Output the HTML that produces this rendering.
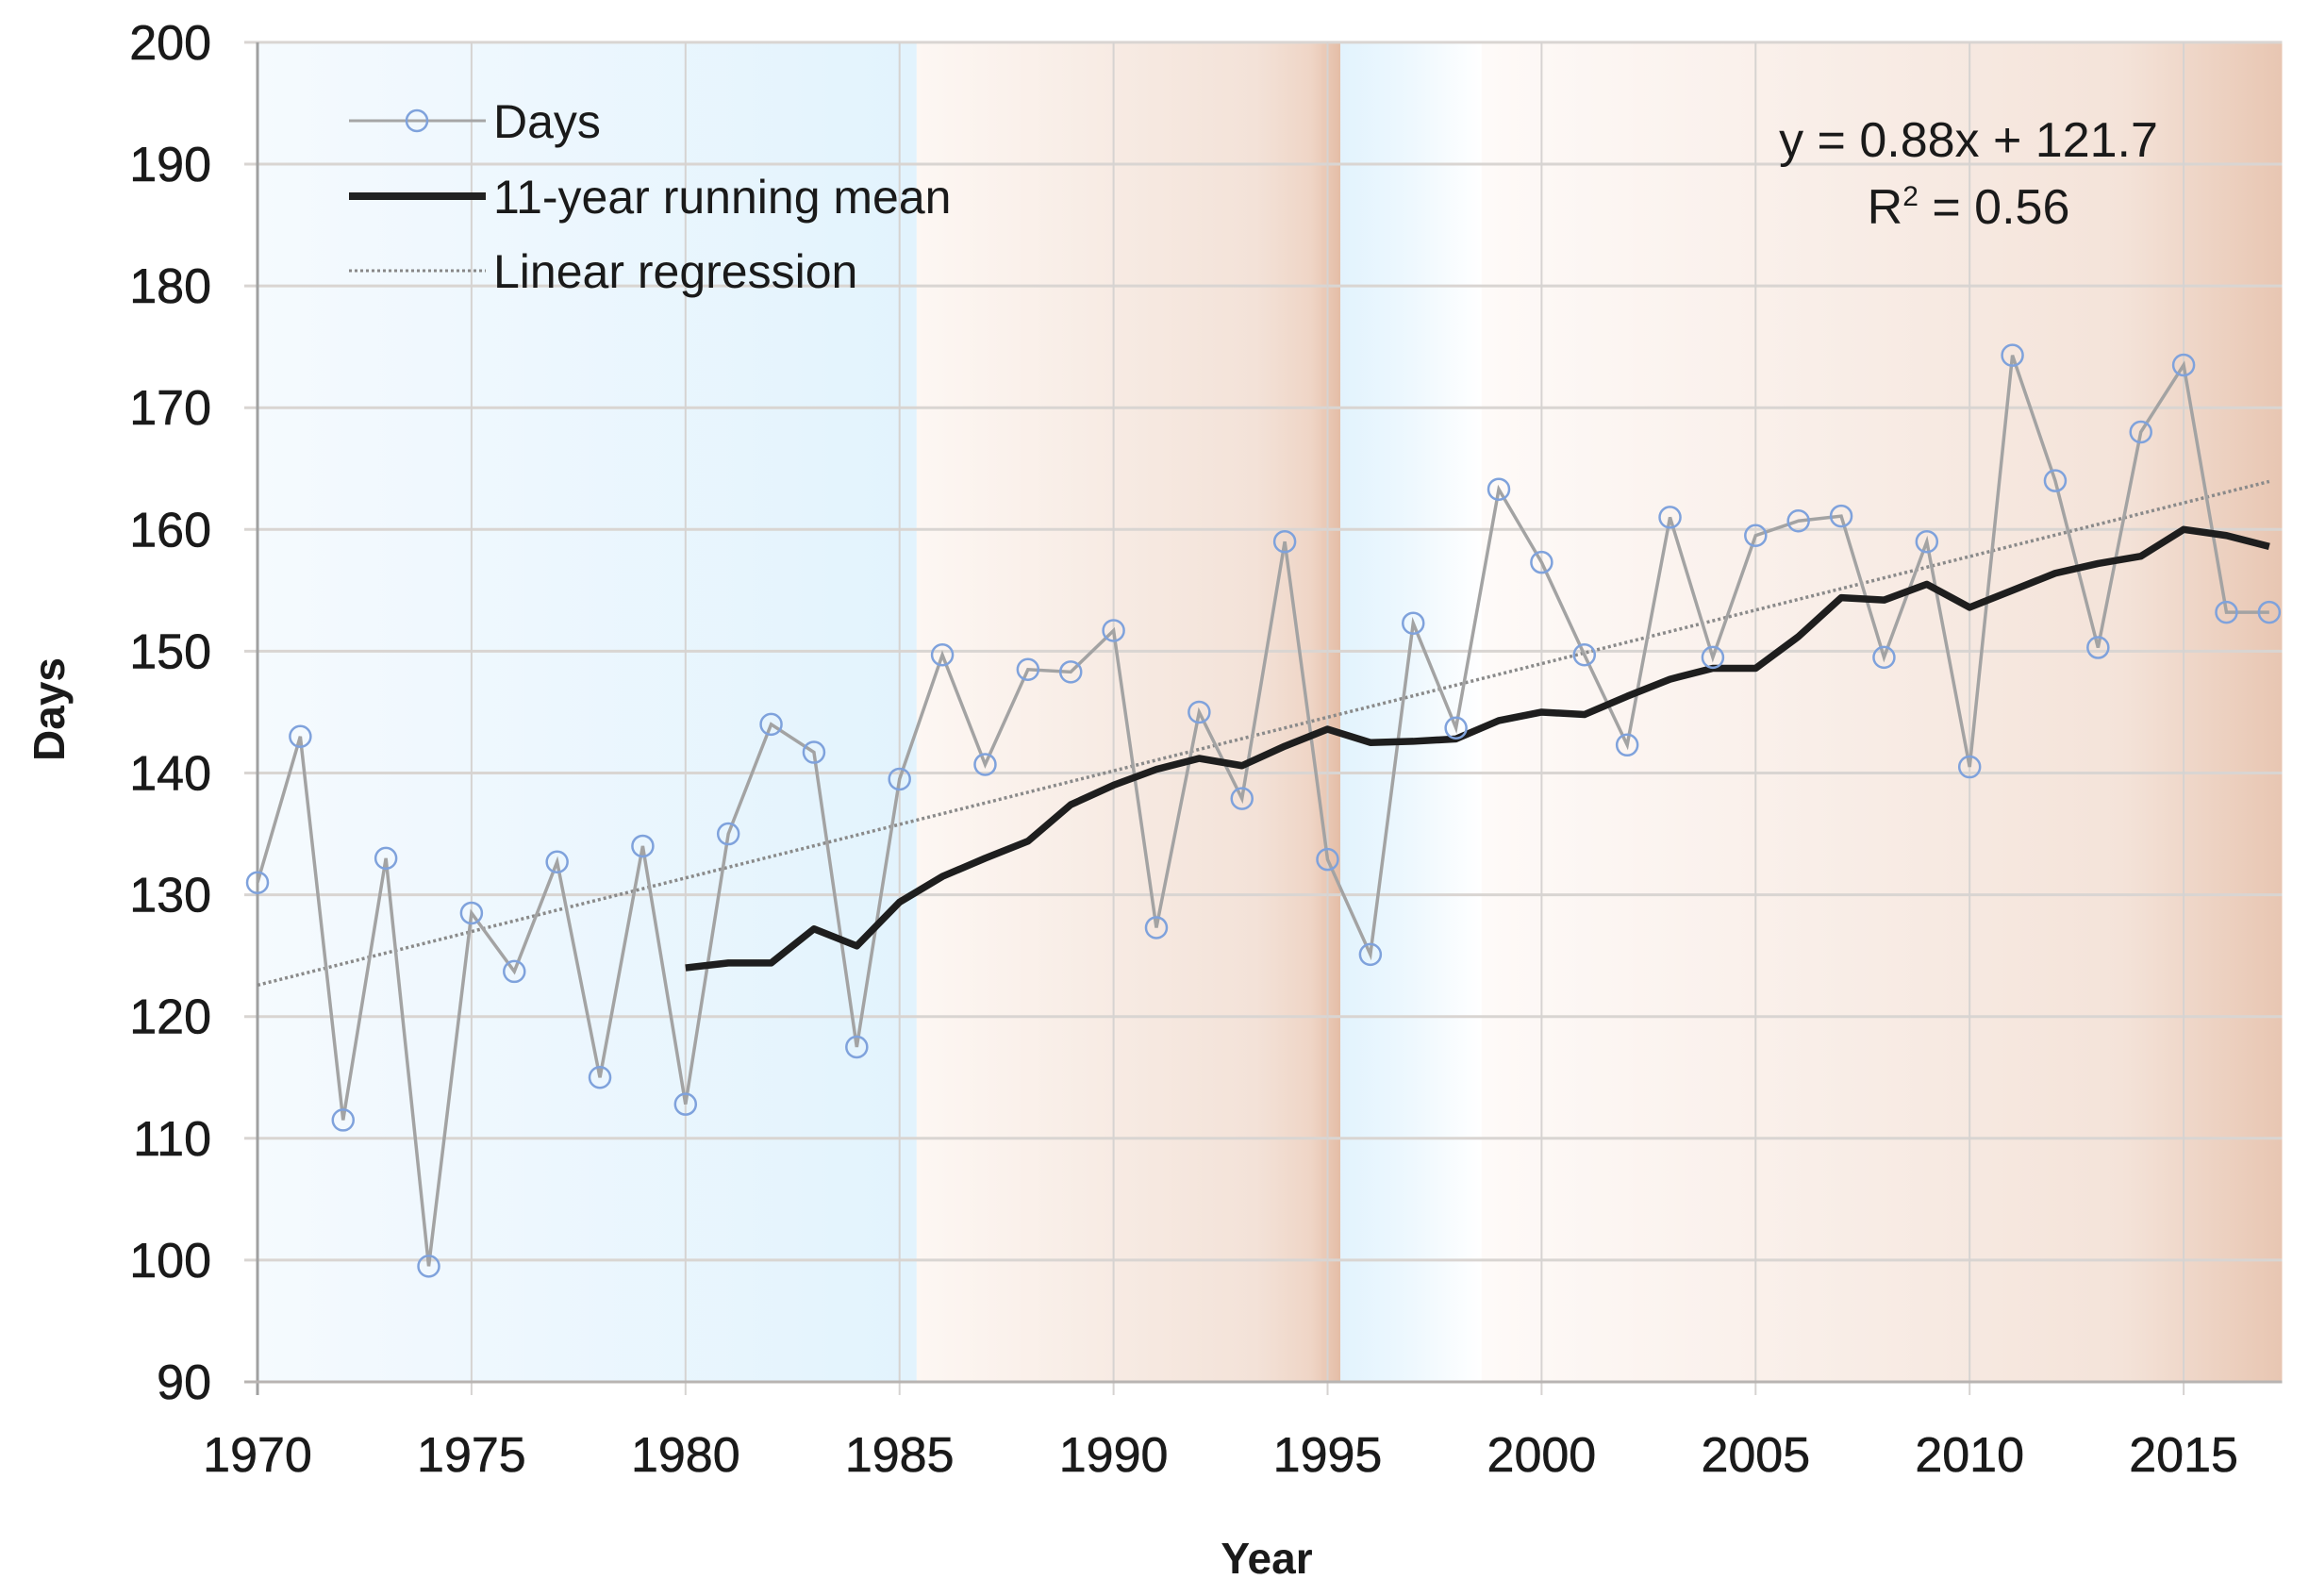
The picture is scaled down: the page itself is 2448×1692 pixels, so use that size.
<!DOCTYPE html>
<html><head><meta charset="utf-8"><style>
html,body{margin:0;padding:0;background:#fff}
svg{display:block}
text{font-family:"Liberation Sans",sans-serif;fill:#1a1a1a}
</style></head><body>
<svg id="chart" width="2448" height="1692" viewBox="0 0 2448 1692" xmlns="http://www.w3.org/2000/svg">
<defs>
<linearGradient id="blue1" x1="0" x2="1" y1="0" y2="0"><stop offset="0" stop-color="#f5fafe"/><stop offset="1" stop-color="#e2f3fd"/></linearGradient>
<linearGradient id="brown1" x1="0" x2="1" y1="0" y2="0"><stop offset="0" stop-color="#fdf7f3"/><stop offset="0.8" stop-color="#f3e2d8"/><stop offset="0.93" stop-color="#efd5c6"/><stop offset="1" stop-color="#e4bda6"/></linearGradient>
<linearGradient id="blue2" x1="0" x2="1" y1="0" y2="0"><stop offset="0" stop-color="#e2f3fd"/><stop offset="0.5" stop-color="#eef8fe"/><stop offset="1" stop-color="#ffffff"/></linearGradient>
<linearGradient id="brown2" x1="0" x2="1" y1="0" y2="0"><stop offset="0" stop-color="#fefaf8"/><stop offset="0.8" stop-color="#f4e3d9"/><stop offset="1" stop-color="#e8c6b2"/></linearGradient>
</defs>
<g id="bg"></g>
<g id="grid"></g>
<g id="axes"></g>
<g id="series"></g>
<text transform="translate(68,752) rotate(-90)" text-anchor="middle" font-size="46" font-weight="bold">Days</text>
<text x="1343" y="1668" text-anchor="middle" font-size="46" font-weight="bold">Year</text>
<g>
<g>
<line x1="370" y1="128" x2="515" y2="128" stroke="#a6a6a6" stroke-width="3"/>
<circle cx="442" cy="128" r="11" fill="none" stroke="#7fa2dc" stroke-width="2.5"/>
<text x="523" y="146" font-size="50">Days</text></g>
<g>
<line x1="370" y1="208" x2="515" y2="208" stroke="#222" stroke-width="8"/>
<text x="523" y="226" font-size="50">11-year running mean</text></g>
<g>
<line x1="370" y1="287" x2="515" y2="287" stroke="#888" stroke-width="3" stroke-dasharray="3,3"/>
<text x="523" y="305" font-size="50">Linear regression</text></g>
</g>
<text x="2087" y="166" text-anchor="middle" font-size="52">y = 0.88x + 121.7</text>
<text x="2087" y="237" text-anchor="middle" font-size="52">R<tspan font-size="30" dy="-19">2</tspan><tspan dy="19"> = 0.56</tspan></text>
</svg>
<script>
const years = [1970,1971,1972,1973,1974,1975,1976,1977,1978,1979,1980,1981,1982,1983,1984,1985,1986,1987,1988,1989,1990,1991,1992,1993,1994,1995,1996,1997,1998,1999,2000,2001,2002,2003,2004,2005,2006,2007,2008,2009,2010,2011,2012,2013,2014,2015,2016,2017];
const days = [131,143,111.5,133,99.5,128.5,123.7,132.7,115,134,112.8,135,144,141.7,117.5,139.5,149.7,140.7,148.5,148.3,151.7,127.3,145,137.9,159,132.9,125.1,152.3,143.7,163.3,157.3,149.7,142.3,161,149.5,159.5,160.7,161.1,149.5,159,140.5,174.3,164,150.3,168,173.5,153.2,153.2];
const meanYears = [1980,1981,1982,1983,1984,1985,1986,1987,1988,1989,1990,1991,1992,1993,1994,1995,1996,1997,1998,1999,2000,2001,2002,2003,2004,2005,2006,2007,2008,2009,2010,2011,2012,2013,2014,2015,2016,2017];
const runningMean = [124,124.4,124.4,127.2,125.8,129.4,131.5,133,134.4,137.4,139,140.3,141.2,140.6,142.2,143.6,142.5,142.6,142.8,144.3,145,144.8,146.3,147.7,148.6,148.6,151.2,154.4,154.2,155.5,153.6,155,156.4,157.2,157.8,160,159.5,158.6];
const regSlope = 0.88;
const regIntercept = 121.7;
const yTicks = [90,100,110,120,130,140,150,160,170,180,190,200];
const xTicks = [1970,1975,1980,1985,1990,1995,2000,2005,2010,2015];

const X0=273, XS=45.38, Y0=1465, YS=12.91;
const xs = y => X0 + (y-1970)*XS;
const ys = v => Y0 - (v-90)*YS;
const NS="http://www.w3.org/2000/svg";
function mk(tag, parent, attrs){const e=document.createElementNS(NS,tag);for(const k in attrs)e.setAttribute(k,attrs[k]);parent.appendChild(e);return e;}

const bg=document.getElementById('bg');
const plotTop=ys(200), plotH=ys(90)-ys(200);
const bands=[[1970,1985.4,'blue1'],[1985.4,1995.3,'brown1'],[1995.3,1998.6,'blue2'],[1998.6,2017.3,'brown2']];
bands.forEach(b=>{
  const r=mk('rect',bg,{x:xs(b[0]),y:plotTop,width:xs(b[1])-xs(b[0]),height:plotH,fill:'url(#'+b[2]+')'});
  
  
});

const grid=document.getElementById('grid');
yTicks.forEach(t=>{
  const l=mk('line',grid,{x1:X0-14,x2:xs(2017.3),y1:ys(t),y2:ys(t),stroke:'#d9d5d2','stroke-width':3});
  
  
  const tx=mk('text',grid,{x:224,y:ys(t)+18,'text-anchor':'end','font-size':52,'stroke':'#1a1a1a','stroke-width':0.6});
  tx.textContent=t;
  
  
});
xTicks.forEach(t=>{
  const l=mk('line',grid,{x1:xs(t),x2:xs(t),y1:plotTop,y2:ys(90)+14,stroke:'#d6d3d1','stroke-width':2});
  
  
  const tx=mk('text',grid,{x:xs(t),y:1560,'text-anchor':'middle','font-size':52,'stroke':'#1a1a1a','stroke-width':0.6});
  tx.textContent=t;
  
  
});
const axes=document.getElementById('axes');
const ya=mk('line',axes,{x1:X0,x2:X0,y1:plotTop,y2:ys(90)+14,stroke:'#a0a0a0','stroke-width':3});


const xa=mk('line',axes,{x1:X0-14,x2:xs(2017.3),y1:ys(90),y2:ys(90),stroke:'#b8b4b2','stroke-width':3});



const ser=document.getElementById('series');
const reg=mk('line',ser,{x1:xs(1970),y1:ys(regSlope*1+regIntercept),x2:xs(2017),y2:ys(regSlope*48+regIntercept),stroke:'#8a8a8a','stroke-width':3.5,'stroke-dasharray':'3,3'});


const dl=mk('polyline',ser,{points:years.map((y,i)=>xs(y)+','+ys(days[i])).join(' '),fill:'none',stroke:'#a3a3a3','stroke-width':3.5});


const ml=mk('polyline',ser,{points:meanYears.map((y,i)=>xs(y)+','+ys(runningMean[i])).join(' '),fill:'none',stroke:'#1e1e1e','stroke-width':7.5,'stroke-linejoin':'round'});


years.forEach((y,i)=>{
  const c=mk('circle',ser,{cx:xs(y),cy:ys(days[i]),r:11,fill:'none',stroke:'#7fa2dc','stroke-width':2.5});
  
  
});
</script>
</body></html>
